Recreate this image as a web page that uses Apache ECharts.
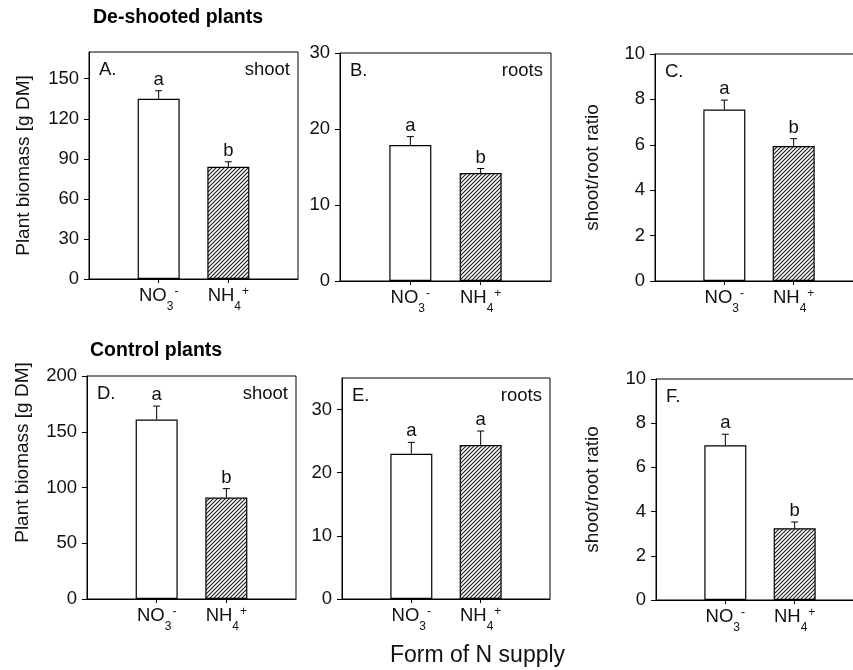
<!DOCTYPE html>
<html><head><meta charset="utf-8">
<script src="https://cdn.jsdelivr.net/npm/echarts@6/dist/echarts.min.js"></script>
<style>html,body{margin:0;padding:0;background:#fff}#c{width:853px;height:670px}</style>
</head><body><div id="c"></div>
<script>
// ---- data ----
const categories = ['NO3-', 'NH4+'];
const panelIds = ['A.', 'B.', 'C.', 'D.', 'E.', 'F.'];
const panelTags = ['shoot', 'roots', '', 'shoot', 'roots', ''];
const yNames = ['Plant biomass [g DM]', '', 'shoot/root ratio', 'Plant biomass [g DM]', '', 'shoot/root ratio'];
const yMax = [170, 30, 10, 200, 35, 10];
const yInterval = [30, 10, 2, 50, 10, 2];

const meansA = [135, 84];    const errA = [6, 3.8];    const lettersA = ['a', 'b'];
const meansB = [17.9, 14.2]; const errB = [1.1, 0.6];  const lettersB = ['a', 'b'];
const meansC = [7.55, 5.95]; const errC = [0.42, 0.32]; const lettersC = ['a', 'b'];
const meansD = [161, 91];    const errD = [12, 8];     const lettersD = ['a', 'b'];
const meansE = [23.0, 24.4]; const errE = [1.8, 2.2];  const lettersE = ['a', 'a'];
const meansF = [7.0, 3.25];  const errF = [0.5, 0.28]; const lettersF = ['a', 'b'];

const titleTop = 'De-shooted plants';
const titleBottom = 'Control plants';
const xTitle = 'Form of N supply';

// ---- layout ----
const FONT = '"Liberation Sans", Arial, Helvetica, sans-serif';
const means = [meansA, meansB, meansC, meansD, meansE, meansF];
const errs = [errA, errB, errC, errD, errE, errF];
const letters = [lettersA, lettersB, lettersC, lettersD, lettersE, lettersF];
const gridBoxes = [
  {left: 89, top: 52, width: 209, height: 227},
  {left: 340, top: 53, width: 211, height: 228},
  {left: 655, top: 54, width: 208, height: 227},
  {left: 87, top: 376, width: 209, height: 223},
  {left: 342, top: 378, width: 208, height: 221},
  {left: 656, top: 379, width: 208, height: 221}
];
const nameGaps = [56, 0, 53, 55, 0, 54];
const namePads = [[0,0,0,0],[0,0,0,0],[0,0,0,0],[0,0,0,70],[0,0,0,0],[0,0,0,0]];

function hatch() {
  const c = document.createElement('canvas'); c.width = 4; c.height = 4;
  const g = c.getContext('2d');
  g.fillStyle = '#fff'; g.fillRect(0, 0, 4, 4);
  g.strokeStyle = '#222'; g.lineWidth = 1.2;
  g.beginPath();
  g.moveTo(0, 4); g.lineTo(4, 0);
  g.moveTo(-1, 1); g.lineTo(1, -1);
  g.moveTo(3, 5); g.lineTo(5, 3);
  g.stroke();
  return c;
}
const hatchPattern = {image: hatch(), repeat: 'repeat'};

const axisCats = [''].concat(categories, ['']);
function chemLabel(v) {
  if (!v) return '';
  return v.replace(/^([A-Z]+)(\d)([+-])$/, '{m|$1}{sub|$2}{sup|$3}');
}

const grids = [], xAxes = [], yAxes = [], series = [], graphics = [];
for (let i = 0; i < 6; i++) {
  grids.push(Object.assign({show: true, borderColor: '#000', borderWidth: 1, backgroundColor: 'transparent', containLabel: false, outerBoundsMode: 'none'}, gridBoxes[i]));
  xAxes.push({
    type: 'category', gridIndex: i, data: axisCats, boundaryGap: false,
    axisLine: {lineStyle: {color: '#000', width: 1}},
    axisTick: {show: true, length: 4, inside: false, lineStyle: {color: '#000'}, interval: (idx) => idx === 1 || idx === 2},
    axisLabel: {
      interval: 0, margin: 7, color: '#111', formatter: chemLabel,
      rich: {
        m: {fontSize: 18.5, fontFamily: FONT, lineHeight: 22, verticalAlign: 'top', color: '#111'},
        sub: {fontSize: 12, fontFamily: FONT, lineHeight: 12, padding: [15, 0, 0, 0], verticalAlign: 'top', color: '#111'},
        sup: {fontSize: 12, fontFamily: FONT, lineHeight: 12, padding: [0, 0, 0, 1], verticalAlign: 'top', color: '#111'}
      }
    },
    splitLine: {show: false}
  });
  yAxes.push({
    type: 'value', gridIndex: i, min: 0, max: yMax[i], interval: yInterval[i],
    name: yNames[i], nameLocation: 'middle', nameRotate: 90, nameGap: nameGaps[i],
    nameTextStyle: {fontSize: 19, fontFamily: FONT, color: '#111', padding: namePads[i]},
    axisLine: {show: true, lineStyle: {color: '#000', width: 1}},
    axisTick: {show: true, length: 5, inside: false, lineStyle: {color: '#000'}},
    axisLabel: {fontSize: 18.5, fontFamily: FONT, color: '#111', margin: 10, showMaxLabel: (yMax[i] % yInterval[i] === 0)},
    splitLine: {show: false}
  });
  series.push({
    type: 'bar', xAxisIndex: i, yAxisIndex: i, barWidth: 42,
    data: [null].concat(means[i].map((v, k) => ({
      value: v,
      itemStyle: {color: k === 0 ? '#fff' : hatchPattern, borderColor: '#000', borderWidth: 1.2}
    })), [null]),
    silent: true, animation: false
  });
  const li = letters[i];
  series.push({
    type: 'custom', xAxisIndex: i, yAxisIndex: i, z: 5, silent: true, animation: false,
    data: means[i].map((v, k) => [k + 1, v, errs[i][k]]),
    renderItem: function (params, api) {
      const x = api.value(0), m = api.value(1), e = api.value(2);
      const p0 = api.coord([x, m]);
      const p1 = api.coord([x, m + e]);
      return {type: 'group', children: [
        {type: 'line', shape: {x1: p0[0], y1: p0[1], x2: p1[0], y2: p1[1]}, style: {stroke: '#000', lineWidth: 1}},
        {type: 'line', shape: {x1: p1[0] - 3.5, y1: p1[1], x2: p1[0] + 3.5, y2: p1[1]}, style: {stroke: '#000', lineWidth: 1}},
        {type: 'text', x: p1[0], y: p1[1] - 11, style: {text: li[params.dataIndex], font: '18.5px ' + FONT, fill: '#111', align: 'center', verticalAlign: 'middle'}}
      ]};
    }
  });
  const b = gridBoxes[i];
  graphics.push({type: 'text', x: b.left + 10, y: b.top + 18, style: {text: panelIds[i], font: '18.5px ' + FONT, fill: '#111', verticalAlign: 'middle'}});
  if (panelTags[i]) {
    graphics.push({type: 'text', x: b.left + b.width - 8, y: b.top + 18, style: {text: panelTags[i], font: '18.5px ' + FONT, fill: '#111', align: 'right', verticalAlign: 'middle'}});
  }
}
graphics.push({type: 'text', x: 93, y: 18, style: {text: titleTop, font: 'bold 19.5px ' + FONT, fill: '#000', verticalAlign: 'middle'}});
graphics.push({type: 'text', x: 90, y: 351, style: {text: titleBottom, font: 'bold 19.5px ' + FONT, fill: '#000', verticalAlign: 'middle'}});
graphics.push({type: 'text', x: 390, y: 656, style: {text: xTitle, font: '23px ' + FONT, fill: '#111', verticalAlign: 'middle'}});

const chart = echarts.init(document.getElementById('c'), null, {renderer: 'canvas'});
chart.setOption({
  backgroundColor: '#fff', animation: false,
  grid: grids, xAxis: xAxes, yAxis: yAxes, series: series, graphic: graphics
});
</script></body></html>
